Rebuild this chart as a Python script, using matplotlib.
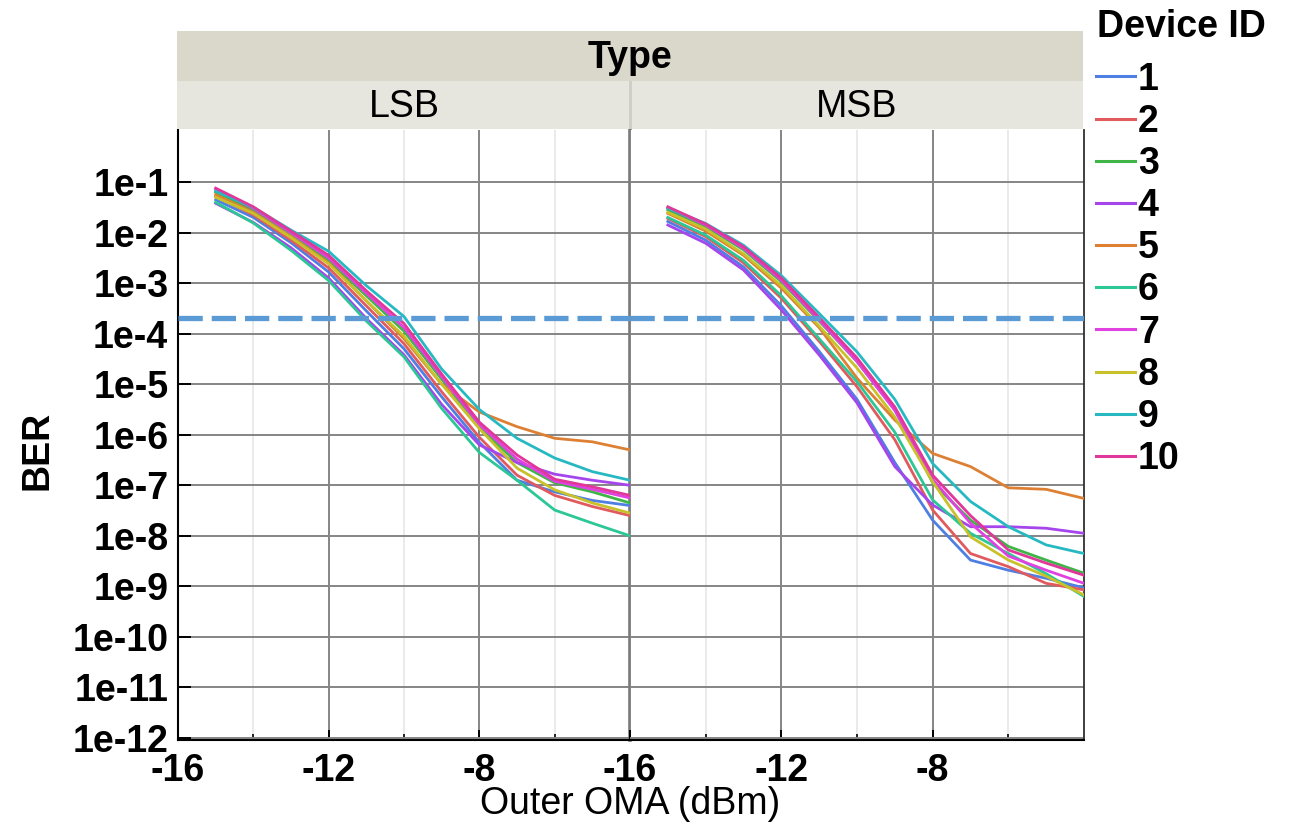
import numpy as np
import matplotlib
matplotlib.use("Agg")
import matplotlib.pyplot as plt
from matplotlib.patches import Rectangle
from matplotlib.lines import Line2D
from matplotlib.ticker import FixedLocator, NullLocator

# ---------------- data ----------------
x_dbm = [-15, -14, -13, -12, -11, -10, -9, -8, -7, -6, -5, -4]
device_ids = ["1", "2", "3", "4", "5", "6", "7", "8", "9", "10"]
device_colors = ["#4f7fe3", "#e05a5e", "#3fb548", "#a546ec", "#de8033",
                 "#2cc796", "#e041e0", "#c9c12a", "#27b9c2", "#e0389a"]
panel_types = ["LSB", "MSB"]

# log10(BER) per device (order: device 1..10)
lsb_log_ber = [
    [-1.35, -1.70, -2.20, -2.78, -3.55, -4.30, -5.25, -6.15, -6.90, -7.13, -7.30, -7.40],  # 1
    [-1.28, -1.65, -2.15, -2.70, -3.45, -4.20, -5.15, -6.05, -6.80, -7.20, -7.42, -7.60],  # 2
    [-1.20, -1.55, -2.02, -2.55, -3.25, -3.95, -4.90, -5.85, -6.55, -6.95, -7.13, -7.35],  # 3
    [-1.42, -1.80, -2.30, -2.90, -3.70, -4.42, -5.40, -6.20, -6.55, -6.78, -6.90, -7.00],  # 4
    [-1.25, -1.60, -2.08, -2.60, -3.35, -4.10, -5.00, -5.55, -5.84, -6.07, -6.14, -6.30],  # 5
    [-1.40, -1.81, -2.35, -2.95, -3.75, -4.46, -5.48, -6.35, -6.90, -7.49, -7.75, -8.00],  # 6
    [-1.15, -1.52, -2.00, -2.50, -3.20, -3.88, -4.85, -5.80, -6.48, -6.92, -7.08, -7.25],  # 7
    [-1.30, -1.62, -2.10, -2.62, -3.35, -4.05, -5.00, -5.88, -6.66, -7.09, -7.35, -7.55],  # 8
    [-1.18, -1.50, -1.95, -2.37, -3.05, -3.66, -4.70, -5.50, -6.07, -6.46, -6.73, -6.90],  # 9
    [-1.12, -1.49, -1.97, -2.45, -3.15, -3.80, -4.80, -5.75, -6.40, -6.88, -7.03, -7.20],  # 10
]
msb_log_ber = [
    [-1.78, -2.15, -2.68, -3.45, -4.35, -5.30, -6.55, -7.69, -8.48, -8.68, -8.84, -9.03],  # 1
    [-1.72, -2.08, -2.60, -3.30, -4.15, -5.05, -6.10, -7.49, -8.35, -8.61, -8.94, -9.07],  # 2
    [-1.55, -1.88, -2.34, -2.97, -3.75, -4.55, -5.50, -6.95, -7.69, -8.21, -8.48, -8.74],  # 3
    [-1.85, -2.21, -2.74, -3.53, -4.42, -5.37, -6.63, -7.39, -7.82, -7.82, -7.85, -7.95],  # 4
    [-1.62, -1.97, -2.45, -3.10, -3.88, -4.88, -5.71, -6.37, -6.63, -7.05, -7.08, -7.26],  # 5
    [-1.70, -2.05, -2.55, -3.25, -4.10, -4.95, -5.95, -7.29, -7.95, -8.35, -8.75, -9.20],  # 6
    [-1.51, -1.85, -2.31, -2.94, -3.73, -4.55, -5.52, -6.88, -7.75, -8.40, -8.68, -8.94],  # 7
    [-1.60, -1.93, -2.42, -3.05, -3.85, -4.68, -5.65, -6.93, -8.02, -8.48, -8.80, -9.17],  # 8
    [-1.52, -1.82, -2.25, -2.85, -3.60, -4.36, -5.30, -6.57, -7.32, -7.82, -8.18, -8.35],  # 9
    [-1.49, -1.83, -2.28, -2.90, -3.68, -4.48, -5.45, -6.80, -7.60, -8.28, -8.54, -8.78],  # 10
]
fec_threshold = 2e-4
y_exponents = [-1, -2, -3, -4, -5, -6, -7, -8, -9, -10, -11, -12]
y_tick_labels = ["1e-1", "1e-2", "1e-3", "1e-4", "1e-5", "1e-6", "1e-7", "1e-8",
                 "1e-9", "1e-10", "1e-11", "1e-12"]
x_major = [-16, -12, -8]
x_minor = [-14, -10, -6]
x_tick_labels = ["-16", "-12", "-8"]

# ---------------- layout ----------------
W, H = 1294, 830
plt.rcParams['font.family'] = ['Liberation Sans', 'DejaVu Sans']
fig = plt.figure(figsize=(W / 100, H / 100), dpi=100)

def fx(px):
    return px / W

def fy(py):
    return 1 - py / H

FS = 27
p_left, p_mid, p_right = 178, 630, 1084
p_top, p_bot = 130, 740

ax1 = fig.add_axes([fx(p_left), fy(p_bot), fx(p_mid - p_left), (p_bot - p_top) / H])
ax2 = fig.add_axes([fx(p_mid), fy(p_bot), fx(p_right - p_mid), (p_bot - p_top) / H], sharey=ax1)

yt = [10.0 ** e for e in y_exponents]
for ax, data in ((ax1, lsb_log_ber), (ax2, msb_log_ber)):
    ax.set_yscale('log')
    ax.set_xlim(-16, -4)
    ax.set_ylim(10 ** -12.04, 10 ** 0.03)
    ax.xaxis.set_major_locator(FixedLocator(x_major))
    ax.xaxis.set_minor_locator(FixedLocator(x_minor))
    ax.yaxis.set_major_locator(FixedLocator(yt))
    ax.yaxis.set_minor_locator(NullLocator())
    ax.grid(which='minor', axis='x', color='#e8e8e8', lw=1.3, zorder=0)
    ax.grid(which='major', axis='both', color='#858585', lw=1.4, zorder=0)
    ax.set_axisbelow(True)
    for i, vals in enumerate(data):
        ax.plot(x_dbm, 10.0 ** np.array(vals), color=device_colors[i], lw=2.0,
                solid_joinstyle='round', zorder=3)
    ax.axhline(fec_threshold, color='#5b9bd5', lw=3.8, dashes=(4.6, 1.7), zorder=4)
    ax.tick_params(axis='both', which='both', direction='in', color='black')
    ax.tick_params(axis='x', which='major', length=7, width=1.4, pad=9,
                   labelsize=FS)
    ax.tick_params(axis='x', which='minor', length=4, width=1.2)
    ax.tick_params(axis='y', which='major', length=9, width=1.4, pad=7,
                   labelsize=FS)
    ax.spines['top'].set_visible(False)
    ax.spines['bottom'].set_color('black')
    ax.spines['bottom'].set_linewidth(1.5)
    ax.set_xticklabels(x_tick_labels, fontweight='bold')

ax1.set_yticklabels(y_tick_labels, fontweight='bold')
ax1.spines['left'].set_color('black')
ax1.spines['left'].set_linewidth(1.5)
ax1.spines['right'].set_color('#7a7a7a')
ax1.spines['right'].set_linewidth(2.6)
ax2.spines['left'].set_visible(False)
ax2.spines['right'].set_color('#303030')
ax2.spines['right'].set_linewidth(1.3)
ax2.tick_params(axis='y', which='both', left=False, labelleft=False)

# ---------------- strips ----------------
def rect(x0, y0, x1, y1, color):
    fig.add_artist(Rectangle((fx(x0), fy(y1)), fx(x1 - x0), (y1 - y0) / H,
                             transform=fig.transFigure, facecolor=color,
                             edgecolor='none', zorder=1))

rect(177, 31, 1083, 81, '#dad8ca')
rect(177, 81, 629, 129, '#e7e6de')
rect(632, 81, 1083, 129, '#e7e6de')
rect(629, 81, 632, 129, '#cfcfc8')
fig.text(fx(630), fy(58), "Type", ha='center', va='center', fontsize=FS,
         fontweight='bold')
fig.text(fx(404), fy(107), panel_types[0], ha='center', va='center', fontsize=FS)
fig.text(fx(857), fy(107), panel_types[1], ha='center', va='center', fontsize=FS)

# ---------------- labels ----------------
fig.text(fx(37), fy(450), "BER", rotation=90, ha='center', va='center',
         fontsize=FS, fontweight='bold')
fig.text(fx(630), fy(804), "Outer OMA (dBm)", ha='center', va='center', fontsize=FS)

# ---------------- legend ----------------
fig.text(fx(1097), fy(27), "Device ID", ha='left', va='center', fontsize=FS,
         fontweight='bold')
handles = [Line2D([0], [0], color=c, lw=2.2) for c in device_colors]
leg = fig.legend(handles, device_ids, loc='upper left',
                 bbox_to_anchor=(fx(1088), fy(54)), frameon=False,
                 prop={'size': FS, 'weight': 'bold'},
                 handlelength=1.05, handletextpad=0.08, labelspacing=0.165,
                 borderpad=0.2, borderaxespad=0)

fig.savefig("out.png", dpi=100)
